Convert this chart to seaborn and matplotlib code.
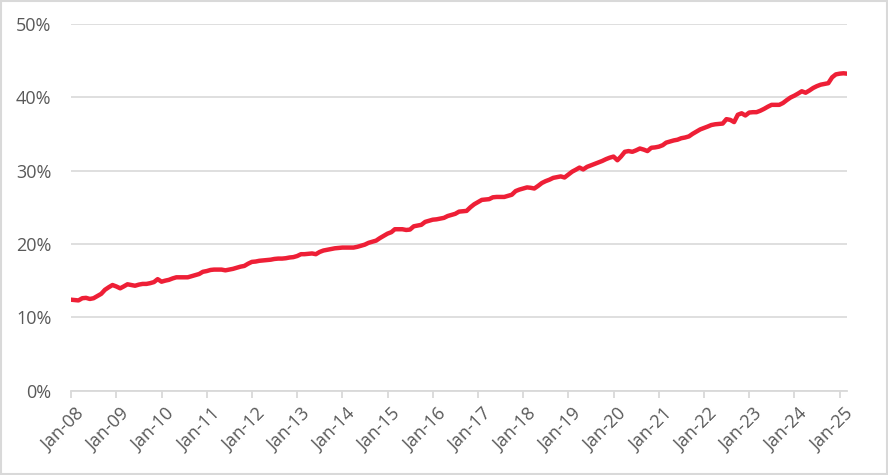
import numpy as np
import pandas as pd
import matplotlib
matplotlib.use("Agg")
import matplotlib.pyplot as plt
import matplotlib.dates as mdates
import matplotlib.transforms as mtransforms
import seaborn as sns

# ---- data (share, %), monthly Jan-2008 .. Mar-2025 ----
start_month = "2008-01-01"
values = [
    # 2008
    12.4, 12.35, 12.3, 12.6, 12.65, 12.5, 12.6, 12.9, 13.2, 13.75, 14.1, 14.4,
    # 2009
    14.2, 13.95, 14.2, 14.5, 14.4, 14.3, 14.45, 14.55, 14.55, 14.65, 14.8, 15.2,
    # 2010
    14.85, 15.0, 15.1, 15.3, 15.45, 15.45, 15.45, 15.45, 15.6, 15.75, 15.9, 16.2,
    # 2011
    16.3, 16.45, 16.5, 16.5, 16.5, 16.4, 16.5, 16.6, 16.75, 16.9, 17.0, 17.3,
    # 2012
    17.55, 17.6, 17.7, 17.75, 17.8, 17.85, 17.95, 18.0, 18.0, 18.05, 18.15, 18.2,
    # 2013
    18.35, 18.6, 18.6, 18.65, 18.7, 18.6, 18.9, 19.1, 19.2, 19.3, 19.4, 19.45,
    # 2014
    19.5, 19.5, 19.5, 19.5, 19.6, 19.75, 19.9, 20.15, 20.3, 20.45, 20.8, 21.1,
    # 2015
    21.4, 21.6, 22.0, 22.0, 22.0, 21.9, 21.95, 22.4, 22.5, 22.6, 23.0, 23.15,
    # 2016
    23.3, 23.35, 23.45, 23.55, 23.8, 23.95, 24.1, 24.4, 24.45, 24.5, 25.0, 25.4,
    # 2017
    25.7, 26.0, 26.05, 26.1, 26.35, 26.4, 26.4, 26.4, 26.55, 26.7, 27.2, 27.4,
    # 2018
    27.55, 27.7, 27.65, 27.55, 27.9, 28.3, 28.55, 28.75, 29.0, 29.1, 29.2, 29.05,
    # 2019
    29.45, 29.85, 30.1, 30.4, 30.15, 30.5, 30.7, 30.9, 31.1, 31.3, 31.55, 31.75,
    # 2020
    31.9, 31.4, 31.9, 32.55, 32.65, 32.55, 32.75, 33.0, 32.85, 32.65, 33.1, 33.15,
    # 2021
    33.25, 33.45, 33.8, 33.95, 34.1, 34.2, 34.4, 34.5, 34.65, 35.0, 35.3, 35.6,
    # 2022
    35.8, 36.0, 36.2, 36.3, 36.35, 36.4, 37.0, 36.9, 36.6, 37.6, 37.8, 37.5,
    # 2023
    37.9, 37.95, 37.95, 38.15, 38.4, 38.7, 38.95, 38.95, 38.95, 39.2, 39.6, 39.95,
    # 2024
    40.2, 40.5, 40.8, 40.6, 40.9, 41.25, 41.5, 41.7, 41.8, 41.9, 42.7, 43.1,
    # 2025
    43.2, 43.25, 43.2,
]
y_ticks = [0, 10, 20, 30, 40, 50]
y_tick_labels = ["0%", "10%", "20%", "30%", "40%", "50%"]

dates = pd.date_range(start_month, periods=len(values), freq="MS")
df = pd.DataFrame({"date": dates, "share": values})

# ---- style ----
sns.set_theme(style="white")
plt.rcParams["font.family"] = ["Open Sans", "DejaVu Sans"]

LINE = "#EE1F36"
GRID = "#D9D9D9"
TXT = "#595959"

fig = plt.figure(figsize=(8.88, 4.75), dpi=100)
ax = fig.add_axes([0.080, 0.1775, 0.8738, 0.7725])

sns.lineplot(data=df, x="date", y="share", ax=ax, color=LINE, linewidth=3.2,
             solid_capstyle="round", solid_joinstyle="round")

ax.set_xlim(dates[0], dates[-1])
ax.set_ylim(0, 50)
ax.set_yticks(y_ticks)
ax.set_yticklabels(y_tick_labels)
ax.yaxis.grid(True, color=GRID, linewidth=1.2)
ax.set_axisbelow(True)

ax.xaxis.set_major_locator(mdates.YearLocator(month=1, day=1))
ax.xaxis.set_major_formatter(mdates.DateFormatter("%b-%y"))

for s in ["left", "right", "top"]:
    ax.spines[s].set_visible(False)
ax.spines["bottom"].set_color(GRID)
ax.spines["bottom"].set_linewidth(1.3)

ax.tick_params(axis="y", length=0, pad=14, labelsize=13, labelcolor=TXT)
ax.tick_params(axis="x", length=5, width=1.3, color=GRID, direction="out",
               pad=4, labelsize=13, labelcolor=TXT, bottom=True)
offset = mtransforms.ScaledTranslation(4 / 100, -2 / 100, fig.dpi_scale_trans)
for lab in ax.get_xticklabels():
    lab.set_rotation(45)
    lab.set_ha("right")
    lab.set_va("top")
    lab.set_rotation_mode("anchor")
    lab.set_transform(lab.get_transform() + offset)

ax.set_xlabel("")
ax.set_ylabel("")

# light border around the whole chart
fig.patches.append(plt.Rectangle((0.001, 0.002), 0.998, 0.996, transform=fig.transFigure,
                                 fill=False, edgecolor=GRID, linewidth=1.5))

fig.savefig("out.png", dpi=100)
